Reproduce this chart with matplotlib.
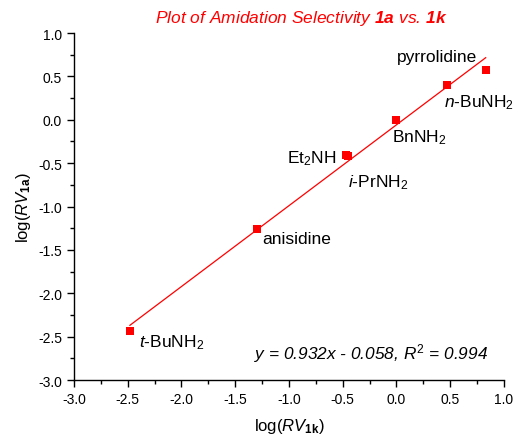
import matplotlib
matplotlib.use("Agg")
import matplotlib.pyplot as plt
import numpy as np
from matplotlib.ticker import MultipleLocator, FormatStrFormatter

plt.rcParams['font.family'] = ['Liberation Sans', 'DejaVu Sans']
plt.rcParams['mathtext.fontset'] = 'custom'
plt.rcParams['mathtext.rm'] = 'Liberation Sans'
plt.rcParams['mathtext.it'] = 'Liberation Sans:italic'
plt.rcParams['mathtext.bf'] = 'Liberation Sans:bold'
plt.rcParams['mathtext.sf'] = 'Liberation Sans:bold:italic'

# data
amines = ['t-BuNH2', 'anisidine', 'Et2NH', 'i-PrNH2', 'BnNH2', 'n-BuNH2', 'pyrrolidine']
log_rv_1k = [-2.48, -1.30, -0.47, -0.45, 0.00, 0.47, 0.83]
log_rv_1a = [-2.43, -1.26, -0.41, -0.42, 0.00, 0.40, 0.57]
labels = [r'$\mathit{t}$-BuNH$_2$', 'anisidine', r'Et$_2$NH', r'$\mathit{i}$-PrNH$_2$',
          r'BnNH$_2$', r'$\mathit{n}$-BuNH$_2$', 'pyrrolidine']
slope = 0.932
intercept = -0.058
r2 = 0.994

# label placement (offset points, alignment)
label_style = {
    't-BuNH2': ((6.5, -8), 'left'),
    'anisidine': ((4.3, -7), 'left'),
    'Et2NH': ((-6.5, -1.5), 'right'),
    'i-PrNH2': ((0.0, -18), 'left'),
    'BnNH2': ((-3, -12), 'left'),
    'n-BuNH2': ((-2, -12), 'left'),
    'pyrrolidine': ((-5.8, 10), 'right'),
}

fig = plt.figure(figsize=(5.15, 4.35), dpi=100)
ax = fig.add_axes([0.1437, 0.1241, 0.8349, 0.7977])

xfit = np.array([min(log_rv_1k), max(log_rv_1k)])
ax.plot(xfit, slope * xfit + intercept, color='red', lw=0.9, zorder=2)
ax.plot(log_rv_1k, log_rv_1a, 's', color='red', ms=5.6, mew=0, zorder=3)

for name, lab, x, y in zip(amines, labels, log_rv_1k, log_rv_1a):
    off, ha = label_style[name]
    ax.annotate(lab, (x, y), xytext=off, textcoords='offset points',
                ha=ha, va='center', fontsize=12.5, color='black')

ax.text(0.85, -2.68, 'y = {:.3f}x - {:.3f}, $\\mathit{{R}}^2$ = {:.3f}'.format(slope, -intercept, r2),
        ha='right', va='center', fontsize=12.4, style='italic')

ax.set_xlim(-3.0, 1.0)
ax.set_ylim(-3.0, 1.0)
ax.xaxis.set_major_locator(MultipleLocator(0.5))
ax.xaxis.set_minor_locator(MultipleLocator(0.25))
ax.yaxis.set_major_locator(MultipleLocator(0.5))
ax.yaxis.set_minor_locator(MultipleLocator(0.25))
ax.xaxis.set_major_formatter(FormatStrFormatter('%.1f'))
ax.yaxis.set_major_formatter(FormatStrFormatter('%.1f'))
ax.tick_params(which='major', direction='out', length=5, width=1, labelsize=10)
ax.tick_params(which='minor', direction='out', length=3, width=1)
ax.spines['top'].set_visible(False)
ax.spines['right'].set_visible(False)
for s in ['left', 'bottom']:
    ax.spines[s].set_linewidth(1)

ax.set_xlabel(r'log($\mathit{RV}_{\mathbf{1k}}$)', fontsize=12, labelpad=7)
ax.set_ylabel(r'log($\mathit{RV}_{\mathbf{1a}}$)', fontsize=12)

fig.text(0.585, 0.958, r'Plot of Amidation Selectivity $\mathsf{1a}$ vs. $\mathsf{1k}$',
         ha='center', va='center', fontsize=12.5, color='red', style='italic')

fig.savefig('out.png', dpi=100)
